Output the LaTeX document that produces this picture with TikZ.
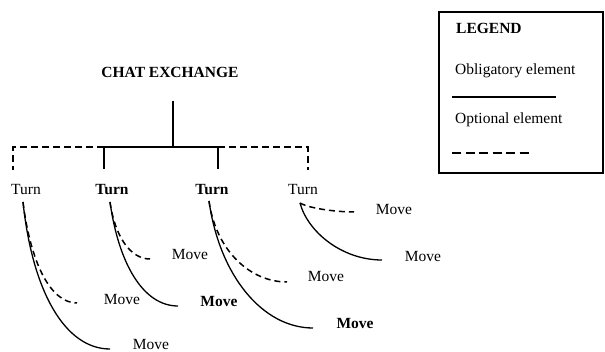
\documentclass[tikz,border=0pt]{standalone}
\usepackage{fontspec}
\setmainfont{Liberation Serif}
\begin{document}
\begin{tikzpicture}[x=1pt,y=-1pt,
  lbl/.style={inner sep=0pt,anchor=base,font=\fontsize{15.5}{18}\selectfont},
  bl/.style={lbl,font=\fontsize{15.5}{18}\selectfont\bfseries},
  oblig/.style={line width=1.5pt},
  optl/.style={line width=1.5pt,dash pattern=on 7pt off 4pt},
  legdash/.style={line width=1.8pt,dash pattern=on 9pt off 4.5pt},
  arc/.style={line width=1.3pt},
  darc/.style={line width=1.5pt,dash pattern=on 6pt off 4pt}]
\useasboundingbox (0,0) rectangle (605,352);

% root and first level
\node[bl] (title) at (170,78) {CHAT EXCHANGE};
\node[lbl] (t1) at (26,195) {Turn};
\node[bl]  (t2) at (112,195) {Turn};
\node[bl]  (t3) at (212,195) {Turn};
\node[lbl] (t4) at (303,195) {Turn};

\coordinate (top) at (173,101);
\coordinate (j)   at (173,147);
\coordinate (b1)  at (104,147);
\coordinate (b2)  at (218,147);
\coordinate (c1)  at (13,147);
\coordinate (c4)  at (308,147);
\coordinate (d1)  at (13,170);
\coordinate (d2)  at (104,169);
\coordinate (d3)  at (218,169);
\coordinate (d4)  at (308,170);

\draw[oblig] (top) -- (j);
\draw[oblig] (b1) -- (b2);
\draw[oblig] (b1) -- (d2);
\draw[oblig] (b2) -- (d3);
\draw[optl] (b1) -- (c1) -- (d1);
\draw[optl] (b2) -- (c4) -- (d4);

% moves
\node[lbl] (m11) at (122,305) {Move};
\node[lbl] (m12) at (151,349.5) {Move};
\node[lbl] (m21) at (190,260) {Move};
\node[bl]  (m22) at (219,307) {Move};
\node[lbl] (m31) at (326,282) {Move};
\node[bl]  (m32) at (355,329) {Move};
\node[lbl] (m41) at (394,215) {Move};
\node[lbl] (m42) at (423,262) {Move};

% arcs from each turn to its moves
\coordinate (s1) at (23,202);
\coordinate (s2) at (110,202);
\coordinate (s3) at (209,201);
\coordinate (s4) at (300,203);
\coordinate (e11) at (77,303);
\coordinate (e12) at (110,349);
\coordinate (e21) at (150,259);
\coordinate (e22) at (178,306);
\coordinate (e31) at (287,282);
\coordinate (e32) at (313,328);
\coordinate (e41) at (354,212);
\coordinate (e42) at (382,260);

\draw[arc]  (s1) to[out=-84,in=180,out distance=90pt,in distance=45pt] (e12);
\draw[darc] (s1) to[out=-83,in=180,out distance=60pt,in distance=27pt] (e11);
\draw[arc]  (s2) to[out=-82,in=180,out distance=62pt,in distance=35pt] (e22);
\draw[darc] (s2) to[out=-82,in=180,out distance=34pt,in distance=20pt] (e21);
\draw[arc]  (s3) to[out=-82,in=180,out distance=76pt,in distance=50pt] (e32);
\draw[darc] (s3) to[out=-82,in=180,out distance=50pt,in distance=37pt] (e31);
\draw[arc]  (s4) to[out=-75,in=180,out distance=30pt,in distance=40pt] (e42);
\draw[darc] (s4) to[out=-30,in=180,out distance=12pt,in distance=15pt] (e41);

% legend
\draw[line width=1.5pt] (439,12) rectangle (603,173);
\node[bl,anchor=base west] (lg) at (456,34) {LEGEND};
\node[lbl,anchor=base west] (lo) at (455,75) {Obligatory element};
\node[lbl,anchor=base west] (lp) at (455,124) {Optional element};
\coordinate (la) at (452,97);
\coordinate (lb) at (556,97);
\coordinate (lc) at (452,153);
\coordinate (ld) at (531,153);
\draw[line width=2pt] (la) -- (lb);
\draw[legdash] (lc) -- (ld);
\end{tikzpicture}
\end{document}
